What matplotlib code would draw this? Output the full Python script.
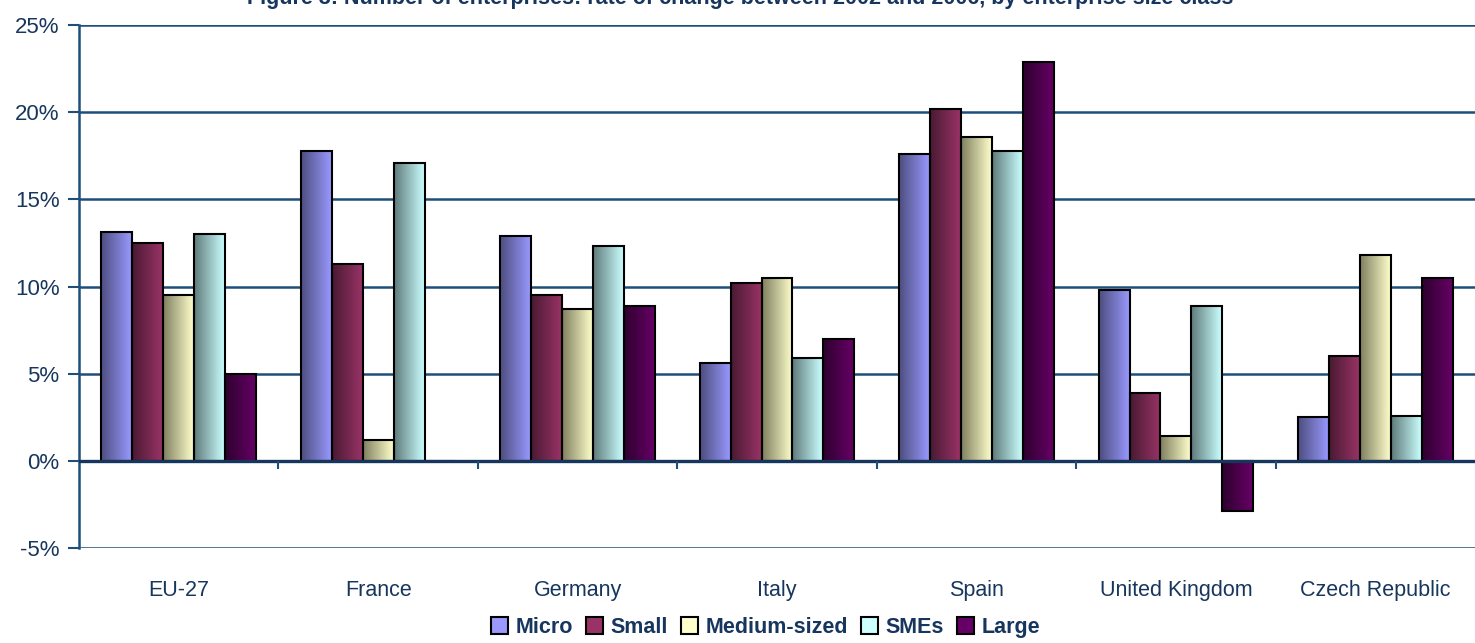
import numpy as np
import matplotlib.pyplot as plt
from matplotlib.colors import LinearSegmentedColormap
from matplotlib.patches import Patch

countries = ["EU-27", "France", "Germany", "Italy", "Spain", "United Kingdom", "Czech Republic"]
sizes = ["Micro", "Small", "Medium-sized", "SMEs", "Large"]

micro = [13.1, 17.8, 12.9, 5.6, 17.6, 9.8, 2.5]
small = [12.5, 11.3, 9.5, 10.2, 20.2, 3.9, 6.0]
medium = [9.5, 1.2, 8.7, 10.5, 18.6, 1.4, 11.8]
smes = [13.0, 17.1, 12.3, 5.9, 17.8, 8.9, 2.6]
large = [5.0, 0.0, 8.9, 7.0, 22.9, -2.9, 10.5]

# dark edge -> light edge of each bar's shading
shades = [("#4e4e80", "#9999ff"),
          ("#4a1a33", "#993366"),
          ("#808060", "#ffffcc"),
          ("#5f7b7b", "#ccffff"),
          ("#2e002e", "#660066")]

navy = "#17365d"
grid_col = "#1f4e79"

plt.rcParams['font.family'] = ["Liberation Sans", "DejaVu Sans"]

fig = plt.figure(figsize=(14.75, 6.43), dpi=100)
ax = fig.add_axes([0.0536, 0.1477, 0.9464, 0.8134])

x = np.arange(len(countries))
w = 0.155
grad = np.linspace(0, 1, 64).reshape(1, -1)

for i, (name, vals) in enumerate(zip(sizes, [micro, small, medium, smes, large])):
    cmap = LinearSegmentedColormap.from_list(name, shades[i])
    bars = ax.bar(x + (i - 2) * w, vals, w, facecolor="none",
                  edgecolor="black", linewidth=1.5, zorder=4, label=name)
    for b in bars:
        h = b.get_height()
        if h == 0:
            continue
        x0 = b.get_x()
        ax.imshow(grad, cmap=cmap, aspect="auto", zorder=3,
                  extent=(x0, x0 + b.get_width(), min(0, h), max(0, h)))

ax.set_xlim(-0.5, len(countries) - 0.5)
ax.set_ylim(-5, 25)

for yv in range(-5, 26, 5):
    ax.axhline(yv, color=grid_col, lw=1.8, zorder=1)
ax.axhline(0, color=navy, lw=2.4, zorder=5)
ax.vlines(x[:-1] + 0.5, -0.45, 0, color=grid_col, lw=1.5, zorder=5)

for s in ["top", "right", "bottom"]:
    ax.spines[s].set_visible(False)
ax.spines["left"].set_color(grid_col)
ax.spines["left"].set_linewidth(1.8)

ax.set_yticks(range(-5, 26, 5))
ax.set_yticklabels([f"{v}%" for v in range(-5, 26, 5)])
ax.tick_params(axis="y", length=8, width=1.5, color=grid_col,
               labelsize=16, labelcolor=navy, pad=6)
ax.set_xticks(x)
ax.set_xticklabels(countries)
ax.tick_params(axis="x", length=0, labelsize=15.5, labelcolor=navy, pad=23)

# legend swatches use the light end of each shading
proxies = [Patch(facecolor=shades[i][1], edgecolor="black", linewidth=1.5) for i in range(5)]
leg = fig.legend(proxies, sizes, loc="lower center", bbox_to_anchor=(0.519, -0.022),
                 ncol=5, frameon=False, handlelength=0.8, handleheight=0.8,
                 handletextpad=0.35, columnspacing=0.6,
                 prop={"weight": "bold", "size": 15.5})
for t in leg.get_texts():
    t.set_color(navy)

fig.text(0.502, 1 - 4 / 643,
         "Figure 3: Number of enterprises: rate of change between 2002 and 2006, by enterprise size class",
         ha="center", va="baseline", fontsize=15.5, fontweight="bold", color=navy)

fig.savefig("out.png", dpi=100)
